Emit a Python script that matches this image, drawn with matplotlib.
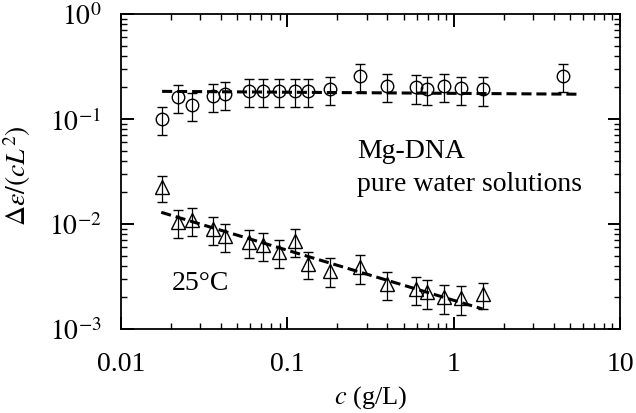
import numpy as np
import matplotlib
matplotlib.use('Agg')
import matplotlib.pyplot as plt

plt.rcParams['font.family'] = ['Liberation Serif', 'DejaVu Serif']
plt.rcParams['mathtext.fontset'] = 'stix'

# concentration c (g/L)
c_circ = [0.0177, 0.0221, 0.0267, 0.036, 0.042, 0.0585, 0.0714, 0.0887, 0.112,
          0.134, 0.180, 0.273, 0.399, 0.590, 0.695, 0.875, 1.10, 1.49, 4.51]
y_circ = [0.100, 0.161, 0.137, 0.167, 0.173, 0.186, 0.186, 0.184, 0.184,
          0.184, 0.193, 0.258, 0.207, 0.200, 0.193, 0.207, 0.195, 0.191, 0.258]
e_circ = [0.030, 0.048, 0.041, 0.050, 0.052, 0.056, 0.056, 0.055, 0.055,
          0.055, 0.058, 0.077, 0.062, 0.060, 0.058, 0.062, 0.058, 0.057, 0.077]

c_tri = c_circ[:18]
y_tri = [0.0224, 0.0104, 0.0109, 0.00896, 0.00774, 0.00669, 0.00631, 0.00537, 0.00693,
         0.00416, 0.00359, 0.00387, 0.0027, 0.0024, 0.00224, 0.0020, 0.00196, 0.00215]
e_tri = [0.0062, 0.0031, 0.0033, 0.0027, 0.0023, 0.0020, 0.0019, 0.0016, 0.0021,
         0.0012, 0.0011, 0.0012, 0.0008, 0.0007, 0.0007, 0.0006, 0.0006, 0.0006]

# dashed fit lines (end points)
fit_circ_x = [0.0177, 5.5]
fit_circ_y = [0.183, 0.172]
fit_tri_x = [0.0175, 1.49]
fit_tri_y = [0.0129, 0.00155]

fig = plt.figure(figsize=(6.36, 4.14), dpi=100)
ax = fig.add_axes([0.190, 0.203, 0.785, 0.761])

ax.plot(fit_circ_x, fit_circ_y, color='black', lw=2.2, ls=(0, (3.3, 1.6)), zorder=3)
ax.plot(fit_tri_x, fit_tri_y, color='black', lw=2.2, ls=(0, (3.3, 1.6)), zorder=3)

ax.errorbar(c_circ, y_circ, yerr=e_circ, fmt='o', ms=9, mfc='none', mec='black',
            mew=1.0, ecolor='black', elinewidth=0.9, capsize=3.4, capthick=0.9)
ax.errorbar(c_tri, y_tri, yerr=e_tri, fmt='^', ms=10, mfc='none', mec='black',
            mew=1.0, ecolor='black', elinewidth=0.9, capsize=3.4, capthick=0.9)

ax.set_xscale('log')
ax.set_yscale('log')
ax.set_xlim(0.01, 10)
ax.set_ylim(1e-3, 1)

ax.set_xticks([0.01, 0.1, 1, 10])
ax.set_xticklabels(['0.01', '0.1', '1', '10'])
ax.set_yticks([1e-3, 1e-2, 1e-1, 1])
ax.set_yticklabels([r'$10^{-3}$', r'$10^{-2}$', r'$10^{-1}$', r'$10^{0}$'])

ax.tick_params(which='both', direction='in', top=True, right=True, labelsize=20)
ax.tick_params(axis='x', which='major', length=9, width=1.4, pad=16)
ax.tick_params(axis='y', which='major', length=9, width=1.4, pad=14)
ax.tick_params(which='minor', length=4.5, width=1.0)
for s in ax.spines.values():
    s.set_linewidth(1.3)

ax.set_xlabel(r'$c$ (g/L)', fontsize=19)
ax.set_ylabel(r'$\Delta\varepsilon/(cL^2)$', fontsize=20)
ax.xaxis.set_label_coords(0.5, -0.172)
ax.yaxis.set_label_coords(-0.176, 0.49)

ax.text(0.473, 0.565, 'Mg-DNA', transform=ax.transAxes, fontsize=20, va='center')
ax.text(0.473, 0.463, 'pure water solutions', transform=ax.transAxes, fontsize=20, va='center')
ax.text(0.102, 0.149, '25°C', transform=ax.transAxes, fontsize=20, va='center')

fig.savefig('out.png', dpi=100)
